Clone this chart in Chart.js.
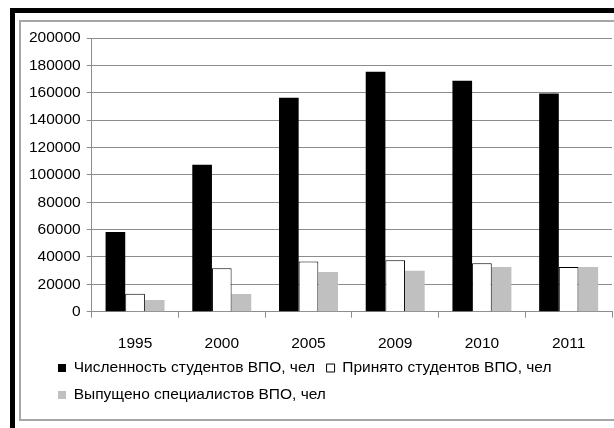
<!DOCTYPE html>
<html>
<head>
<meta charset="utf-8">
<script src="https://cdn.jsdelivr.net/npm/chart.js@4/dist/chart.umd.min.js"></script>
<style>
  html, body { margin: 0; padding: 0; background: #fff; overflow: hidden; width: 614px; height: 428px; }
  #outer { position: absolute; left: 10px; top: 8px; width: 700px; height: 500px;
           border-left: 5px solid #000; border-top: 5px solid #000; box-sizing: border-box; }
  #inner { position: absolute; left: 19px; top: 20px; width: 700px; height: 401px;
           border-left: 2px solid #a6a6a6; border-top: 2px solid #a6a6a6; border-bottom: 2px solid #a6a6a6; box-sizing: border-box; }
  #c { position: absolute; left: 0; top: 0; }
</style>
</head>
<body>
<div id="outer"></div>
<div id="inner"></div>
<canvas id="c" width="614" height="428"></canvas>
<script>
const years = ['1995', '2000', '2005', '2009', '2010', '2011'];
const students = [58300, 107300, 156300, 175300, 168800, 159500];
const admitted = [13200, 31700, 36600, 37600, 35400, 32700];
const graduated = [8600, 12900, 29000, 30000, 32700, 32700];
const seriesNames = ['Численность студентов ВПО, чел', 'Принято студентов ВПО, чел', 'Выпущено специалистов ВПО, чел'];
const yMin = 0, yMax = 200000, yStep = 20000;

const FONT = "'Liberation Sans Narrow', 'Arial Narrow', 'Liberation Sans', Arial, sans-serif";
const FS = 15.5;
const gridColor = '#8c8c8c';

// shift the legend so its first box starts where the reference's does
const legendShift = {
  id: 'legendShift',
  afterLayout(chart) {
    if (chart.legend) { chart.legend.left = 46.5; }
  }
};

new Chart(document.getElementById('c'), {
  type: 'bar',
  data: {
    labels: years,
    datasets: [
      { label: seriesNames[0], data: students, backgroundColor: '#000000', borderColor: '#000000', borderWidth: 0 },
      { label: seriesNames[1], data: admitted, backgroundColor: '#ffffff', borderColor: '#000000', borderWidth: 1 },
      { label: seriesNames[2], data: graduated, backgroundColor: '#c0c0c0', borderColor: '#c0c0c0', borderWidth: 0 }
    ]
  },
  plugins: [legendShift],
  options: {
    responsive: false,
    animation: false,
    datasets: { bar: { categoryPercentage: 0.68, barPercentage: 1.0 } },
    layout: { padding: { left: 20, top: 38, right: 2, bottom: 15.25 } },
    plugins: {
      tooltip: { enabled: false },
      legend: {
        position: 'bottom',
        align: 'start',
        labels: {
          boxWidth: 8, boxHeight: 8, padding: 11.5, color: '#000',
          font: { family: FONT, size: FS }
        }
      }
    },
    scales: {
      x: {
        grid: { display: true, drawOnChartArea: false, drawTicks: true, tickLength: 6, color: gridColor },
        border: { display: true, color: gridColor, width: 1 },
        ticks: { color: '#000', padding: 16.8, font: { family: FONT, size: FS }, maxRotation: 0 },
        afterFit: (s) => { s.height = 37.05; }
      },
      y: {
        min: yMin, max: yMax,
        grid: { color: gridColor, tickLength: 5, drawTicks: true },
        border: { display: true, color: gridColor, width: 1 },
        ticks: { stepSize: yStep, color: '#000', padding: 6, font: { family: FONT, size: FS },
                 callback: (v) => String(v) },
        afterFit: (s) => { s.width = 71.7; }
      }
    }
  }
});
</script>
</body>
</html>
